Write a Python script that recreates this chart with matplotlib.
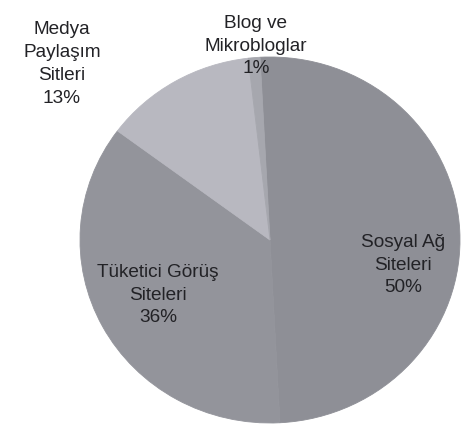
import matplotlib
matplotlib.use("Agg")
import matplotlib.pyplot as plt

# share of social media site types
labels = ["Sosyal Ağ\nSiteleri", "Tüketici Görüş\nSiteleri", "Medya\nPaylaşım\nSitleri", "Blog ve\nMikrobloglar"]
shares = [50, 36, 13, 1]
colors = ["#8e8f96", "#93949b", "#b8b8c0", "#a6a7ae"]

# label anchors in pixel coords (x right, y down)
label_pos = [(403, 265), (158, 295), (62, 64), (256, 46)]

W, H = 462, 425
# pie centre and radii in pixels (the scan is slightly stretched sideways)
cx, cy, rx, ry = 270, 240, 190, 183

fig = plt.figure(figsize=(W / 100, H / 100), dpi=100)
ax = fig.add_axes([0, 0, 1, 1])

wedges, _ = ax.pie(shares, colors=colors, startangle=93, counterclock=False,
                   radius=1, frame=True, wedgeprops=dict(linewidth=0.6))
for w, c in zip(wedges, colors):
    w.set_edgecolor(c)

ax.set_aspect("auto")
ax.set_xlim(-cx / rx, (W - cx) / rx)
ax.set_ylim(-(H - cy) / ry, cy / ry)
ax.axis("off")

for lab, val, (x, y) in zip(labels, shares, label_pos):
    ax.text((x - cx) / rx, (cy - y) / ry, f"{lab}\n{val}%", ha="center", va="center",
            fontsize=13.7, family="Liberation Sans", color="#222226",
            linespacing=1.45)

fig.savefig("out.png", dpi=100, facecolor="white")
